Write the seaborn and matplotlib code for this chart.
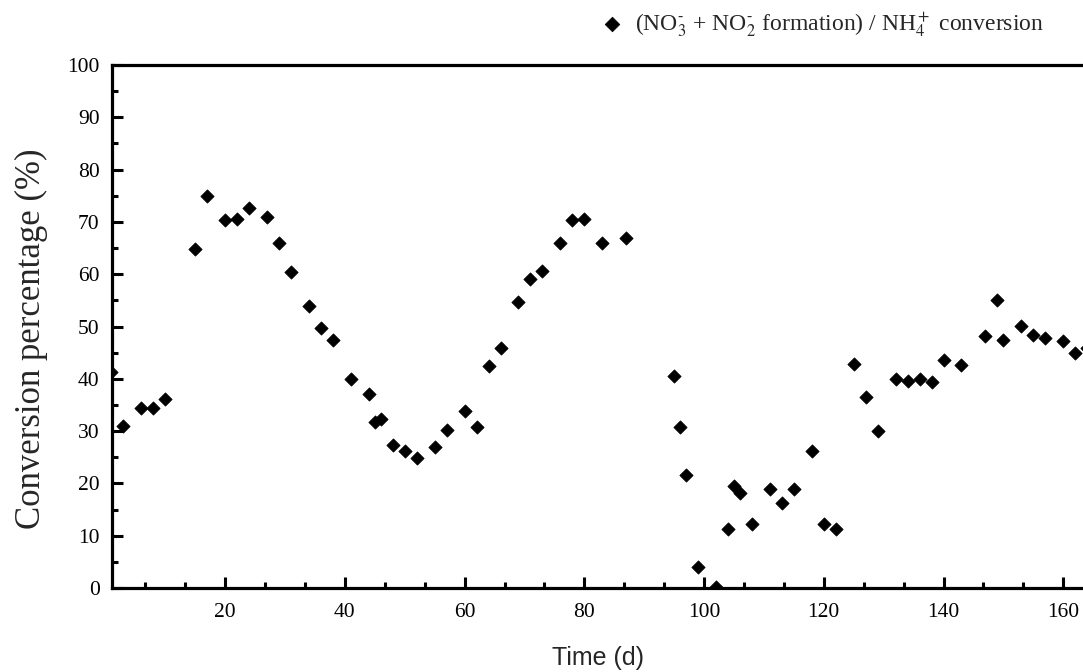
import numpy as np
import pandas as pd
import matplotlib
matplotlib.use("Agg")
import matplotlib.pyplot as plt
from matplotlib.ticker import MultipleLocator, AutoMinorLocator
import seaborn as sns

# ---- data ----
days = [1, 3, 6, 8, 10, 15, 17, 20, 22, 24, 27, 29, 31, 34, 36, 38, 41, 44, 45, 46,
        48, 50, 52, 55, 57, 60, 62, 64, 66, 69, 71, 73, 76, 78, 80, 83, 87,
        95, 96, 97, 99, 102, 104, 105, 106, 108, 111, 113, 115, 118, 120, 122,
        125, 127, 129, 132, 134, 136, 138, 140, 143, 147, 149, 150, 153, 155, 157,
        160, 162, 164]
conversion = [41.3, 30.9, 34.4, 34.4, 36.2, 64.8, 75.0, 70.4, 70.6, 72.7, 71.0, 66.0,
              60.4, 54.0, 49.8, 47.5, 39.9, 37.1, 31.8, 32.4,
              27.3, 26.2, 24.9, 27.0, 30.3, 33.9, 30.7, 42.4, 45.9, 54.7, 59.0, 60.7,
              66.0, 70.4, 70.6, 66.0, 67.0,
              40.6, 30.8, 21.7, 4.1, 0.1, 11.3, 19.5, 18.1, 12.2, 18.9, 16.2, 18.9,
              26.1, 12.2, 11.3,
              42.9, 36.6, 30.0, 39.9, 39.5, 39.9, 39.3, 43.5, 42.6, 48.1, 55.1, 47.4,
              50.1, 48.4, 47.8, 47.2, 45.0, 45.8]
series_label = r'(NO$_3^{\mathrm{‐}}$ + NO$_2^{\mathrm{‐}}$ formation) / NH$_4^+$ conversion'
x_label = 'Time (d)'
y_label = 'Conversion percentage (%)'

df = pd.DataFrame({'day': days, 'conv': conversion})

sns.set_theme(style='white')
plt.rcParams['font.family'] = ['Liberation Serif', 'DejaVu Serif']
plt.rcParams['mathtext.fontset'] = 'stix'

fig = plt.figure(figsize=(10.83, 6.72), dpi=100)
ax = fig.add_axes([112 / 1083, 84 / 672, 1 - 112 / 1083, (588 - 65) / 672])

sns.scatterplot(data=df, x='day', y='conv', ax=ax, marker='D', s=46,
                color='black', edgecolor='black', linewidth=0.5,
                label=series_label, zorder=3)

ax.set_xlim(1.1, 163.3)
ax.set_ylim(0, 100)
ax.xaxis.set_major_locator(MultipleLocator(20))
ax.xaxis.set_minor_locator(AutoMinorLocator(3))
ax.yaxis.set_major_locator(MultipleLocator(10))
ax.yaxis.set_minor_locator(MultipleLocator(5))

for side in ['left', 'bottom', 'top']:
    ax.spines[side].set_visible(True)
    ax.spines[side].set_linewidth(2.3)
    ax.spines[side].set_color('black')
ax.spines['right'].set_visible(False)

ax.tick_params(axis='both', which='both', direction='in', color='black',
               width=2.2, labelsize=15.5, labelcolor='black')
ax.tick_params(axis='both', which='major', length=8, pad=9)
ax.tick_params(axis='x', which='major', pad=11)
ax.tick_params(axis='both', which='minor', length=4.5)
ax.tick_params(axis='x', which='both', top=False, bottom=True)
ax.tick_params(axis='y', which='both', left=True, right=False)

ax.set_xlabel(x_label, fontsize=18, family=['Liberation Sans', 'DejaVu Sans'], labelpad=17)
ax.set_ylabel(y_label, fontsize=25)
ax.yaxis.set_label_coords(-64 / 971, 0.476)

leg = ax.legend(loc='center left', bbox_to_anchor=(601 / 1083, (672 - 25) / 672),
                bbox_transform=fig.transFigure, frameon=False, fontsize=17,
                handlelength=0.9, handletextpad=0.55, borderpad=0, borderaxespad=0,
                markerscale=1.1)

fig.savefig('out.png', dpi=100)
